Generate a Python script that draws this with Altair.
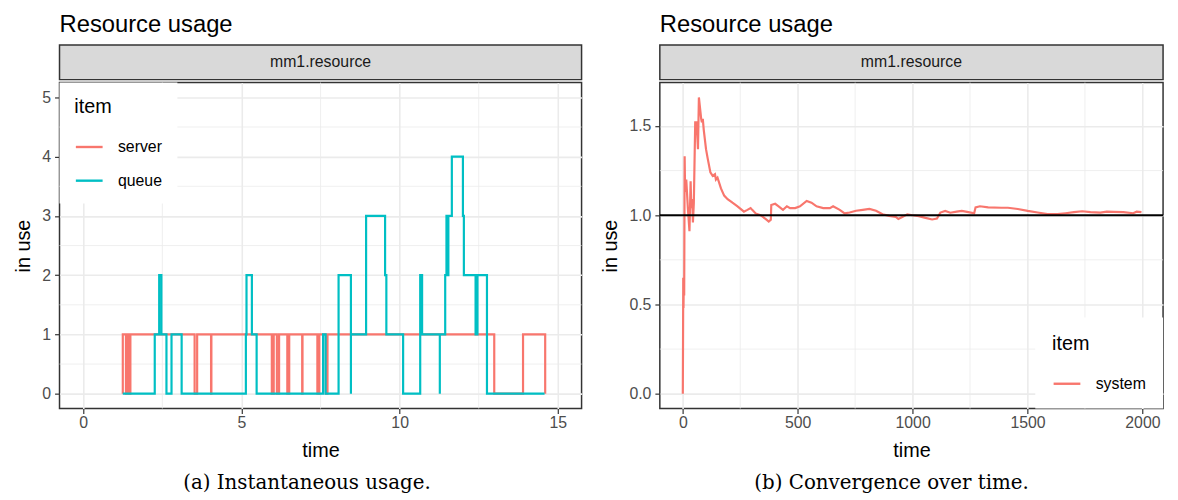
import altair as alt
import pandas as pd

FONT = "Liberation Sans"
SERIF = "DejaVu Serif"

# ---------------- data ----------------
panel_title = "Resource usage"
strip_label = "mm1.resource"
caption_left = "(a) Instantaneous usage."
caption_right = "(b) Convergence over time."

# (a) instantaneous usage, step data
server_t = [1.25, 1.25, 1.35, 1.40, 1.46, 1.49, 3.52, 3.60, 4.04, 4.05, 5.96, 6.02, 6.12,
            6.19, 6.45, 6.51, 6.92, 6.93, 7.40, 7.46, 7.67, 7.72, 12.99, 13.90, 14.60]
server_v = [0, 1, 0, 1, 0, 1, 0, 1, 0, 1, 0, 1, 0, 1, 0, 1, 0, 1, 0, 1, 0, 1, 0, 1, 0]

queue_t = [1.25, 2.26, 2.40, 2.47, 2.63, 2.79, 3.11, 5.14, 5.16, 5.33, 5.48, 7.58, 7.66,
           8.07, 8.46, 8.46, 8.94, 9.54, 9.58, 10.11, 10.65, 10.71, 11.27, 11.27, 11.44,
           11.48, 11.50, 11.54, 11.65, 12.00, 12.03, 12.40, 12.46, 12.76, 14.58]
queue_v = [0, 1, 2, 1, 0, 1, 0, 1, 2, 1, 0, 1, 0, 2, 0, 1, 3, 2, 1, 0, 2, 1, 0, 1, 2,
           3, 2, 3, 4, 3, 2, 1, 2, 0, 0]

items_left = ["server", "queue"]
colors_left = ["#F8766D", "#00BFC4"]

# (b) convergence over time
sys_t = [0, 1, 2, 3, 4, 6, 8, 10, 15, 22, 29, 34, 37, 41, 44, 48, 54, 60, 66, 70, 75, 80,
         83, 87, 91, 101, 108, 120, 130, 140, 144, 151, 166, 180, 195, 216, 238, 266, 281,
         295, 302, 317, 338, 360, 374, 383, 385, 402, 417, 436, 453, 467, 489, 510, 539,
         560, 582, 611, 640, 654, 683, 704, 726, 754, 783, 812, 841, 869, 898, 927, 938,
         955, 977, 999, 1027, 1056, 1085, 1106, 1121, 1142, 1164, 1192, 1214, 1243, 1268,
         1274, 1293, 1329, 1386, 1415, 1458, 1501, 1544, 1587, 1630, 1666, 1702, 1738,
         1774, 1817, 1845, 1874, 1917, 1960, 1975, 1996]
sys_v = [0.0, 0.3, 0.65, 0.48, 0.6, 0.55, 1.33, 1.13, 1.20, 1.04, 0.91, 1.19, 1.04, 1.09,
         0.96, 1.07, 1.52, 1.52, 1.37, 1.66, 1.60, 1.54, 1.52, 1.54, 1.48, 1.37, 1.32, 1.24,
         1.22, 1.23, 1.20, 1.21, 1.15, 1.11, 1.09, 1.07, 1.05, 1.02, 1.03, 1.04, 1.03, 1.01,
         1.00, 0.98, 0.965, 0.975, 1.057, 1.064, 1.05, 1.03, 1.05, 1.04, 1.04, 1.05, 1.08,
         1.07, 1.05, 1.04, 1.04, 1.05, 1.03, 1.01, 1.015, 1.025, 1.03, 1.035, 1.025, 1.005,
         0.996, 0.99, 0.979, 0.99, 1.005, 1.00, 0.995, 0.985, 0.976, 0.981, 1.015, 1.024,
         1.014, 1.02, 1.024, 1.017, 1.011, 1.044, 1.05, 1.044, 1.042, 1.042, 1.035, 1.024,
         1.015, 1.006, 1.006, 1.011, 1.017, 1.022, 1.017, 1.015, 1.02, 1.019, 1.017, 1.011,
         1.02, 1.017]
items_right = ["system"]
colors_right = ["#F8766D"]
ref_level = [1.0]

# ticks / grid
left_x_major = [0, 5, 10, 15]
left_x_minor = [2.5, 7.5, 12.5]
left_y_major = [0, 1, 2, 3, 4, 5]
left_y_minor = [0.5, 1.5, 2.5, 3.5, 4.5]
right_x_major = [0, 500, 1000, 1500, 2000]
right_x_minor = [250, 750, 1250, 1750]
right_y_major = [0, 0.5, 1.0, 1.5]
right_y_minor = [0.25, 0.75, 1.25]

# ---------------- frames ----------------
left_df = pd.DataFrame({
    "t": server_t + queue_t,
    "v": server_v + queue_v,
    "item": ["server"] * len(server_t) + ["queue"] * len(queue_t),
})
left_df["i"] = range(len(left_df))
right_df = pd.DataFrame({"t": sys_t, "v": sys_v, "item": ["system"] * len(sys_t)})

LW, RW, PH, SH = 527, 508, 329, 35

axis_style = dict(
    grid=True, gridColor="#EBEBEB", gridWidth=1.6, domain=False,
    tickColor="#333333", tickWidth=1.2, tickSize=5,
    labelColor="#4D4D4D", labelFontSize=16, labelFont=FONT,
    titleFont=FONT, titleFontSize=20, titleFontWeight="normal", titleColor="#000000",
)


def legend(orient, offset, padding):
    return alt.Legend(
        title="item", orient=orient, offset=offset, padding=padding, fillColor="white",
        symbolType="stroke", symbolSize=729, symbolStrokeWidth=2.4,
        labelFont=FONT, labelFontSize=16, labelColor="#000000", labelOffset=14,
        titleFont=FONT, titleFontSize=20, titleFontWeight="normal", titleColor="#000000",
        titlePadding=15, rowPadding=11,
    )


def minor_rules(vals, ch, scale, axis):
    d = pd.DataFrame({"g": vals})
    enc = alt.X("g:Q", scale=scale, axis=axis) if ch == "x" else alt.Y("g:Q", scale=scale, axis=axis)
    return alt.Chart(d).mark_rule(color="#EBEBEB", strokeWidth=0.8).encode(**{ch: enc})


def strip(width):
    return alt.Chart(alt.Data(values=[{"label": strip_label}])).mark_text(
        font=FONT, fontSize=16, color="#1A1A1A", baseline="middle", align="center"
    ).encode(
        x=alt.value(width / 2), y=alt.value(SH / 2), text="label:N"
    ).properties(
        width=width, height=SH,
        title=alt.TitleParams(text=panel_title, anchor="start", frame="group", font=FONT,
                              fontSize=24, fontWeight="normal", color="#000000", offset=8),
        view=alt.ViewBackground(fill="#D9D9D9", stroke="#333333", strokeWidth=1.5),
    )


def caption(text):
    return alt.TitleParams(text=text, orient="bottom", anchor="middle", frame="bounds",
                           font=SERIF, fontSize=20, fontWeight="normal", color="#000000",
                           offset=13, dx=9)


# ---------------- left panel ----------------
lx = alt.Scale(domain=[-0.75, 15.75], nice=False, zero=False)
ly = alt.Scale(domain=[-0.25, 5.25], nice=False, zero=False)
lx_axis = alt.Axis(title="time", values=left_x_major, labelPadding=1, titlePadding=10, **axis_style)
ly_axis = alt.Axis(title="in use", values=left_y_major, labelPadding=4, titlePadding=8, **axis_style)

base_left = alt.Chart(left_df).mark_line(interpolate="step-after", strokeWidth=2.2).encode(
    x=alt.X("t:Q", scale=lx, axis=lx_axis),
    y=alt.Y("v:Q", scale=ly, axis=ly_axis),
    color=alt.Color("item:N", scale=alt.Scale(domain=items_left, range=colors_left),
                    legend=legend("top-left", 0, 15)),
    order=alt.Order("i:Q"),
)
main_left = alt.layer(
    minor_rules(left_x_minor, "x", lx, lx_axis),
    minor_rules(left_y_minor, "y", ly, ly_axis),
    base_left.transform_filter(alt.datum.item == "server"),
    base_left.transform_filter(alt.datum.item == "queue"),
).properties(width=LW, height=PH, title=caption(caption_left))

# ---------------- right panel ----------------
rx = alt.Scale(domain=[-100, 2090], nice=False, zero=False)
ry = alt.Scale(domain=[-0.083, 1.743], nice=False, zero=False)
rx_axis = alt.Axis(title="time", values=right_x_major, format="d", labelPadding=1, titlePadding=10, **axis_style)
ry_axis = alt.Axis(title="in use", values=right_y_major, format=".1f", labelPadding=4, titlePadding=8, **axis_style)

line_right = alt.Chart(right_df).mark_line(strokeWidth=2.2).encode(
    x=alt.X("t:Q", scale=rx, axis=rx_axis),
    y=alt.Y("v:Q", scale=ry, axis=ry_axis),
    color=alt.Color("item:N", scale=alt.Scale(domain=items_right, range=colors_right),
                    legend=legend("bottom-right", 0, 17)),
)
hline = alt.Chart(pd.DataFrame({"h": ref_level})).mark_rule(color="#000000", strokeWidth=2.2).encode(
    y=alt.Y("h:Q", scale=ry, axis=ry_axis)
)
main_right = alt.layer(
    minor_rules(right_x_minor, "x", rx, rx_axis),
    minor_rules(right_y_minor, "y", ry, ry_axis),
    line_right,
    hline,
).properties(width=RW, height=PH, title=caption(caption_right))

panel_left = alt.vconcat(strip(LW), main_left, spacing=0).resolve_scale(
    color="independent").resolve_legend(color="independent")
panel_right = alt.vconcat(strip(RW), main_right, spacing=0).resolve_scale(
    color="independent").resolve_legend(color="independent")

chart = alt.hconcat(panel_left, panel_right, spacing=17).resolve_scale(
    color="independent"
).resolve_legend(color="independent").properties(
    padding={"left": 5, "top": 2, "right": 5, "bottom": 0},
    background="white",
).configure_view(stroke="#333333", strokeWidth=1.5)

chart.save("out.html", embed_options={"renderer": "svg", "actions": False})
